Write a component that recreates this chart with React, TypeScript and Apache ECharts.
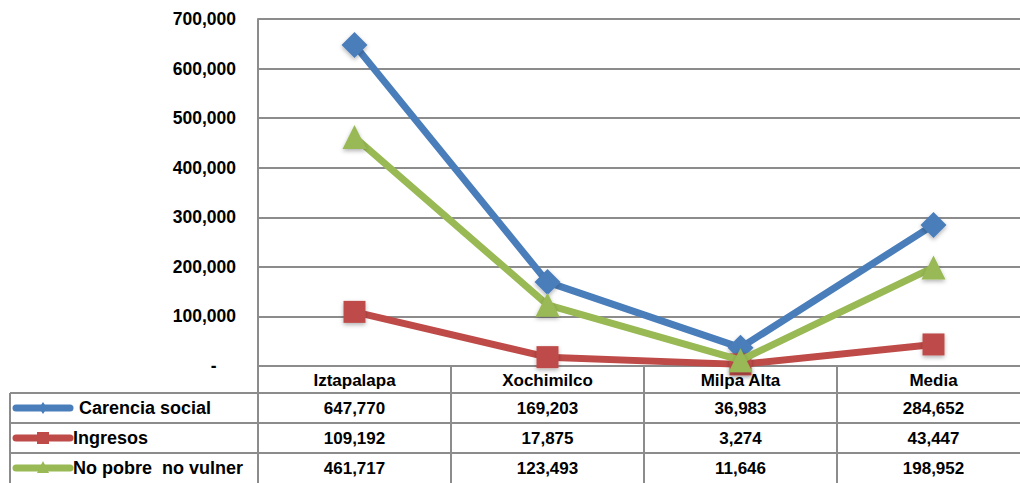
import React, { useEffect, useRef } from "react";
import * as echarts from "echarts";

const categories = ["Iztapalapa", "Xochimilco", "Milpa Alta", "Media"];
const seriesNames = ["Carencia social", "Ingresos", "No pobre  no vulner"];
const carencia = [647770, 169203, 36983, 284652];
const ingresos = [109192, 17875, 3274, 43447];
const noPobre = [461717, 123493, 11646, 198952];
const colors = ["#4A7EBB", "#BE4B48", "#98B954"];
const symbols = ["diamond", "rect", "triangle"];
const symbolSizes = [26, 22, 24];

const fmt = (v: number) => v.toLocaleString("en-US");
const FONT = "Liberation Sans, Arial, sans-serif";

export default function App() {
  const ref = useRef<HTMLDivElement>(null);
  useEffect(() => {
    const chart = echarts.init(ref.current!, null, { renderer: "svg" });
    const allData = [carencia, ingresos, noPobre];
    const gray = "#8c8c8c";
    chart.setOption({
      animation: false,
      backgroundColor: "#ffffff",
      grid: { left: 258, top: 19, width: 772, height: 347 },
      xAxis: {
        type: "category",
        data: categories,
        boundaryGap: true,
        axisLine: { show: true, lineStyle: { color: gray, width: 2 } },
        axisTick: { show: false },
        axisLabel: {
          margin: 6,
          fontSize: 17,
          fontWeight: "bold",
          color: "#000",
          fontFamily: FONT,
        },
      },
      yAxis: {
        type: "value",
        min: 0,
        max: 700000,
        interval: 100000,
        axisLine: { show: true, lineStyle: { color: gray, width: 2 } },
        axisTick: { show: false },
        splitLine: { lineStyle: { color: gray, width: 2 } },
        axisLabel: {
          margin: 22,
          fontSize: 17.5,
          fontWeight: "bold",
          color: "#000",
          fontFamily: FONT,
          formatter: (v: number) => (v === 0 ? "-    " : fmt(v)),
        },
      },
      series: allData.map((d, i) => ({
        name: seriesNames[i],
        type: "line",
        data: d,
        symbol: symbols[i],
        symbolSize: symbolSizes[i],
        lineStyle: { color: colors[i], width: 7 },
        itemStyle: {
          color: colors[i],
          shadowBlur: 4,
          shadowColor: "rgba(0,0,0,0.3)",
          shadowOffsetY: 2,
        },
        z: 2 + i,
      })),
    });

    const xs = categories.map((c) => chart.convertToPixel({ xAxisIndex: 0 }, c) as number);
    const colW = xs.length > 1 ? xs[1] - xs[0] : 193;
    const left = 258;
    const rowTops = [393, 423, 453];
    const rowH = 30;
    const graphics: any[] = [];
    const lineStyle = { stroke: gray, lineWidth: 2 };
    graphics.push({ type: "line", shape: { x1: left, y1: 366, x2: left, y2: 483 }, style: lineStyle });
    xs.forEach((x, i) => {
      if (i > 0) {
        const sx = x - colW / 2;
        graphics.push({ type: "line", shape: { x1: sx, y1: 366, x2: sx, y2: 483 }, style: lineStyle });
      }
    });
    graphics.push({ type: "line", shape: { x1: 10, y1: 393, x2: 10, y2: 483 }, style: lineStyle });
    rowTops.forEach((y) => {
      graphics.push({ type: "line", shape: { x1: 10, y1: y, x2: 1032, y2: y }, style: lineStyle });
    });
    allData.forEach((d, r) => {
      const cy = rowTops[r] + rowH / 2;
      graphics.push({
        type: "line",
        shape: { x1: 16, y1: cy, x2: 70, y2: cy },
        style: { stroke: colors[r], lineWidth: 7, lineCap: "round" },
      });
      const mx = 43;
      if (symbols[r] === "diamond") {
        graphics.push({
          type: "polygon",
          shape: { points: [[mx, cy - 6], [mx + 4, cy], [mx, cy + 6], [mx - 4, cy]] },
          style: { fill: colors[r] },
        });
      } else if (symbols[r] === "rect") {
        graphics.push({ type: "rect", shape: { x: mx - 6, y: cy - 6, width: 12, height: 12 }, style: { fill: colors[r] } });
      } else {
        graphics.push({
          type: "polygon",
          shape: { points: [[mx, cy - 7], [mx + 6, cy + 5], [mx - 6, cy + 5]] },
          style: { fill: colors[r] },
        });
      }
      graphics.push({
        type: "text",
        x: r === 0 ? 79 : 73,
        y: cy,
        style: {
          text: seriesNames[r],
          fontSize: 18,
          fontWeight: "bold",
          fontFamily: FONT,
          fill: "#000",
          textVerticalAlign: "middle",
          verticalAlign: "middle",
        },
      });
      d.forEach((v, c) => {
        graphics.push({
          type: "text",
          x: xs[c],
          y: cy,
          style: {
            text: fmt(v),
            fontSize: 17,
            fontWeight: "bold",
            fontFamily: FONT,
            fill: "#000",
            align: "center",
            textAlign: "center",
            verticalAlign: "middle",
            textVerticalAlign: "middle",
          },
        });
      });
    });
    chart.setOption({ graphic: graphics });
    return () => chart.dispose();
  }, []);
  return (
    <div
      style={{ position: "absolute", left: 0, top: 0, width: 1020, height: 483, overflow: "hidden" }}
    >
      <div ref={ref} style={{ width: 1032, height: 483 }} />
    </div>
  );
}
